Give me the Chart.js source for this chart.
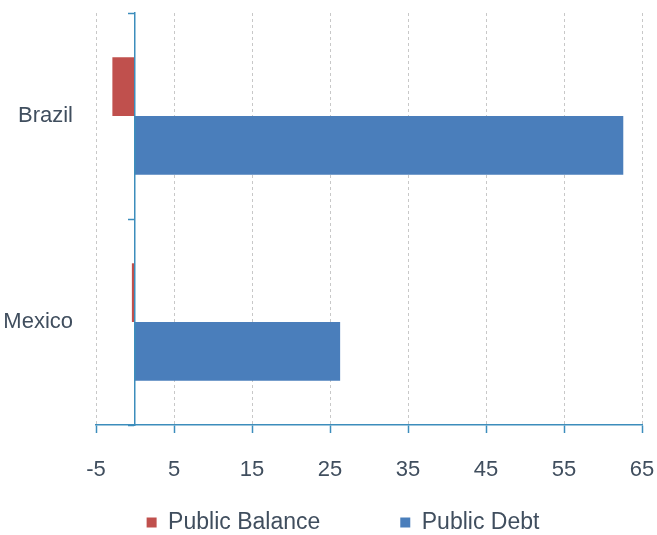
<!DOCTYPE html>
<html>
<head>
<meta charset="utf-8">
<script src="https://cdn.jsdelivr.net/npm/chart.js@4/dist/chart.umd.min.js"></script>
<style>
  html, body { margin: 0; padding: 0; background: #fff; }
  #wrap { width: 657px; height: 535px; }
</style>
</head>
<body>
<div id="wrap"><canvas id="chart"></canvas></div>
<script>
const categories = ['Brazil', 'Mexico'];
const publicBalance = [-2.9, -0.4];
const publicDebt = [62.6, 26.3];
const tickValues = [-5, 5, 15, 25, 35, 45, 55, 65];

const FONT = "'Liberation Sans', Arial, sans-serif";
const TEXT = '#404E5E';
const AXIS = '#3C8DBC';

// legend: wide gap between items, but normal vertical spacing
const legendGap = {
    id: 'legendGap',
    afterInit(chart) {
        const lg = chart.legend;
        const fit = lg.fit;
        lg.fit = function () { fit.call(this); this.height = 40; };
        const draw = lg.draw;
        lg.draw = function () {
            const { top, left, right } = this;
            this.top = top - 64;
            this.left = left + 22;
            this.right = right + 22;
            draw.call(this);
            this.top = top;
            this.left = left;
            this.right = right;
        };
    }
};

new Chart(document.getElementById('chart'), {
    type: 'bar',
    data: {
        labels: categories,
        datasets: [
            {
                label: 'Public Balance',
                data: publicBalance,
                backgroundColor: '#C0504D',
                categoryPercentage: 0.57,
                barPercentage: 1.0
            },
            {
                label: 'Public Debt',
                data: publicDebt,
                backgroundColor: '#4A7EBB',
                categoryPercentage: 0.57,
                barPercentage: 1.0
            }
        ]
    },
    options: {
        indexAxis: 'y',
        responsive: true,
        maintainAspectRatio: false,
        animation: false,
        layout: { padding: { top: 13, right: 15, left: 0, bottom: 0 } },
        plugins: {
            tooltip: { enabled: false },
            legend: {
                position: 'bottom',
                labels: {
                    boxWidth: 10,
                    boxHeight: 10,
                    padding: 80,
                    color: TEXT,
                    font: { family: FONT, size: 23 }
                }
            }
        },
        scales: {
            x: {
                min: -5,
                max: 65,
                afterBuildTicks(scale) {
                    scale.ticks = tickValues.map(v => ({ value: v }));
                },
                afterFit(scale) {
                    scale.height = 70;
                    scale.paddingLeft = 0;
                    scale.paddingRight = 0;
                },
                grid: {
                    color: '#C8C8C8',
                    tickColor: AXIS,
                    tickLength: 8,
                    tickWidth: 1.5
                },
                border: { color: AXIS, width: 1.5, dash: [3, 3] },
                ticks: {
                    padding: 24,
                    color: TEXT,
                    font: { family: FONT, size: 22 }
                }
            },
            y: {
                afterFit(scale) {
                    scale.width = 96;
                    scale.paddingTop = 0;
                    scale.paddingBottom = 0;
                },
                grid: { display: false, drawTicks: false },
                border: { display: false },
                ticks: {
                    padding: 23,
                    color: TEXT,
                    font: { family: FONT, size: 22 }
                }
            },
            y2: {
                axis: 'y',
                type: 'category',
                position: { x: 0 },
                offset: true,
                afterFit(scale) {
                    scale.paddingTop = 0;
                    scale.paddingBottom = 0;
                },
                grid: {
                    offset: true,
                    drawOnChartArea: false,
                    tickLength: 6,
                    tickColor: AXIS,
                    tickWidth: 1.5
                },
                border: { color: AXIS, width: 1.5, z: 1 },
                ticks: { display: false }
            }
        }
    },
    plugins: [legendGap]
});
</script>
</body>
</html>
